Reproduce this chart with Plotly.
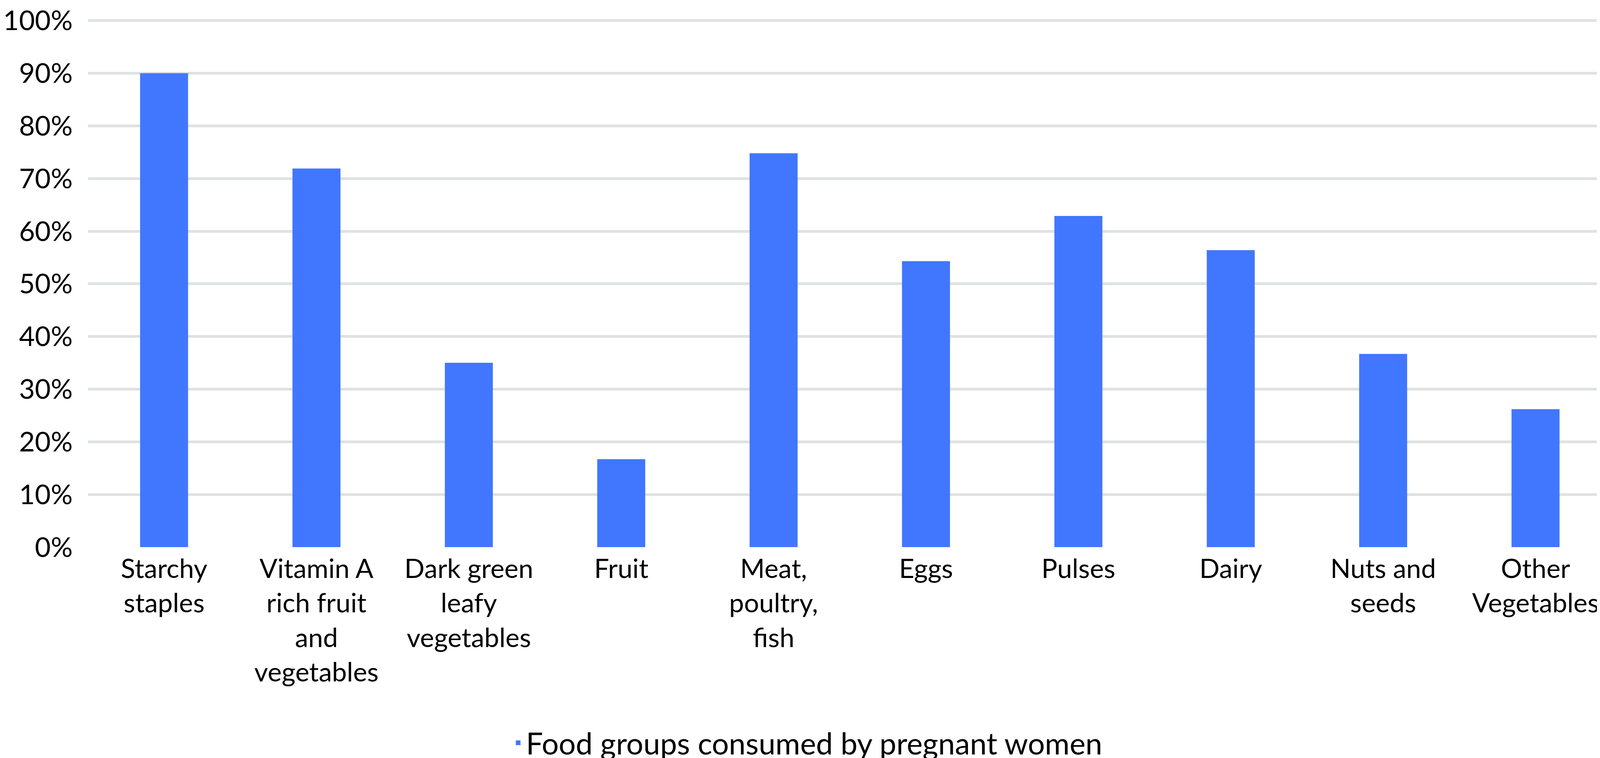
import plotly.graph_objects as go

categories = ["Starchy staples", "Vitamin A rich fruit and vegetables", "Dark green leafy vegetables",
              "Fruit", "Meat, poultry, fish", "Eggs", "Pulses", "Dairy", "Nuts and seeds", "Other Vegetables"]
tick_labels = ["Starchy<br>staples", "Vitamin A<br>rich fruit<br>and<br>vegetables", "Dark green<br>leafy<br>vegetables",
               "Fruit", "Meat,<br>poultry,<br>fish", "Eggs", "Pulses", "Dairy", "Nuts and<br>seeds", "Other<br>Vegetables"]
values = [0.900, 0.719, 0.350, 0.167, 0.748, 0.543, 0.629, 0.564, 0.367, 0.262]
series_name = "Food groups consumed by pregnant women"
y_ticks = [0, 0.1, 0.2, 0.3, 0.4, 0.5, 0.6, 0.7, 0.8, 0.9, 1.0]

FONT = "Lato, Open Sans, sans-serif"
BAR = "#4176FF"
GRID = "#DEE3E1"

fig = go.Figure()
fig.add_trace(go.Bar(x=categories, y=values, name=series_name,
                     marker=dict(color=BAR, line=dict(width=0)), showlegend=True))

fig.update_layout(
    width=4118, height=1941,
    margin=dict(l=210, r=0, t=27, b=548, pad=0),
    paper_bgcolor="white", plot_bgcolor="white",
    font=dict(family=FONT, size=70, color="black"),
    bargap=0.685,
    showlegend=True,
    legend=dict(orientation="h", xref="container", yref="container", x=0.5, xanchor="center",
                y=0.024, yanchor="middle", font=dict(size=77, color="black"),
                bgcolor="rgba(0,0,0,0)"),
    xaxis=dict(tickmode="array", tickvals=categories, ticktext=tick_labels,
               showgrid=False, showline=False, zeroline=False, ticks="",
               tickfont=dict(size=68, color="black"), ticklabelstandoff=10,
               ticklabeloverflow="allow"),
    yaxis=dict(range=[0, 1.002], tickmode="array", tickvals=y_ticks, tickformat=".0%",
               showgrid=True, gridcolor=GRID, gridwidth=7, zeroline=False, showline=False,
               ticks="", tickfont=dict(size=70, color="black"), ticklabelstandoff=38,
               ticklabeloverflow="allow"),
)

fig.write_html("out.html")
